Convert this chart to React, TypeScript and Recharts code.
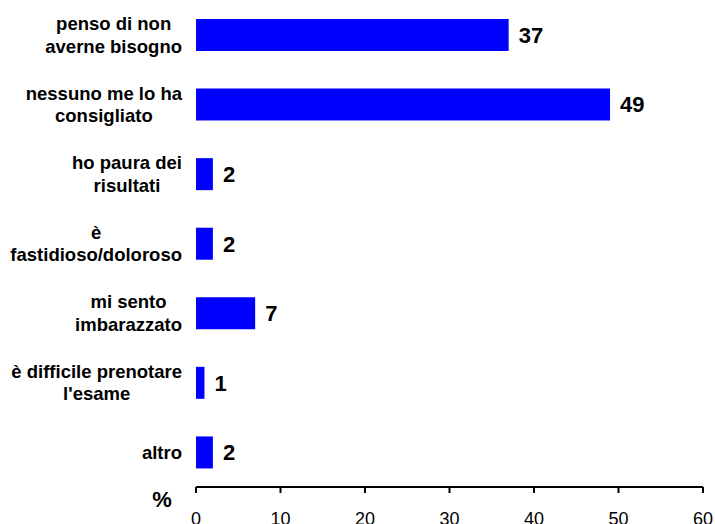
import React from 'react';
import { BarChart, Bar, XAxis, YAxis, LabelList } from 'recharts';

const categories = [
  'penso di non\naverne bisogno',
  'nessuno me lo ha\nconsigliato',
  'ho paura dei\nrisultati',
  'è\nfastidioso/doloroso',
  'mi sento\nimbarazzato',
  "è difficile prenotare\nl'esame",
  'altro',
];
const values = [37, 49, 2, 2, 7, 1, 2];
const xTicks = [0, 10, 20, 30, 40, 50, 60];

const data = categories.map((name, i) => ({ name, value: values[i] }));

const FONT = '"Liberation Sans", Arial, sans-serif';
const Y_FONT_SIZE = 18.5;

let canvasCtx: CanvasRenderingContext2D | null = null;
function measure(text: string, font: string): number {
  if (!canvasCtx) {
    const c = document.createElement('canvas');
    canvasCtx = c.getContext('2d');
  }
  if (!canvasCtx) return text.length * 9;
  canvasCtx.font = font;
  return canvasCtx.measureText(text).width;
}

const YTick = (props: any) => {
  const { x, y, payload } = props;
  const lines: string[] = String(payload.value).split('\n');
  const font = `bold ${Y_FONT_SIZE}px "Liberation Sans"`;
  const maxW = Math.max(...lines.map((l) => measure(l, font)));
  const cx = x - maxW / 2;
  const lh = 22.5;
  const startY = y - ((lines.length - 1) * lh) / 2;
  return (
    <g>
      {lines.map((l, i) => (
        <text
          key={i}
          x={cx}
          y={startY + i * lh}
          dy="0.35em"
          textAnchor="middle"
          style={{ textAnchor: 'middle' }}
          fontFamily={FONT}
          fontWeight="bold"
          fontSize={Y_FONT_SIZE}
          fill="#000"
        >
          {l}
        </text>
      ))}
    </g>
  );
};

const PercentLabel = (props: any) => {
  const vb = props.viewBox || { x: 196, y: 487 };
  return (
    <text
      x={vb.x - 34}
      y={vb.y + 20}
      fontFamily={FONT}
      fontWeight="bold"
      fontSize={22}
      fill="#000"
      textAnchor="middle"
    >
      %
    </text>
  );
};

export default function App() {
  return (
    <div style={{ position: 'absolute', left: 0, top: 0, background: '#fff' }}>
      <BarChart
        width={715}
        height={524}
        data={data}
        layout="vertical"
        margin={{ top: 0, right: 12, bottom: 0, left: 0 }}
        barSize={32}
      >
        <XAxis
          type="number"
          domain={[0, 60]}
          ticks={xTicks}
          interval={0}
          height={37}
          axisLine={{ stroke: '#000', strokeWidth: 2 }}
          tickLine={{ stroke: '#000', strokeWidth: 2 }}
          tickSize={6}
          tickMargin={19}
          tick={{ fontFamily: FONT, fontSize: 18, fill: '#000' }}
          label={<PercentLabel />}
        />
        <YAxis
          type="category"
          dataKey="name"
          width={196}
          axisLine={false}
          tickLine={false}
          tickSize={0}
          tickMargin={14}
          interval={0}
          tick={<YTick />}
        />
        <Bar dataKey="value" fill="#0000FF" isAnimationActive={false}>
          <LabelList
            dataKey="value"
            position="right"
            offset={10}
            fontFamily={FONT}
            fontWeight="bold"
            fontSize={22}
            fill="#000"
          />
        </Bar>
      </BarChart>
    </div>
  );
}
